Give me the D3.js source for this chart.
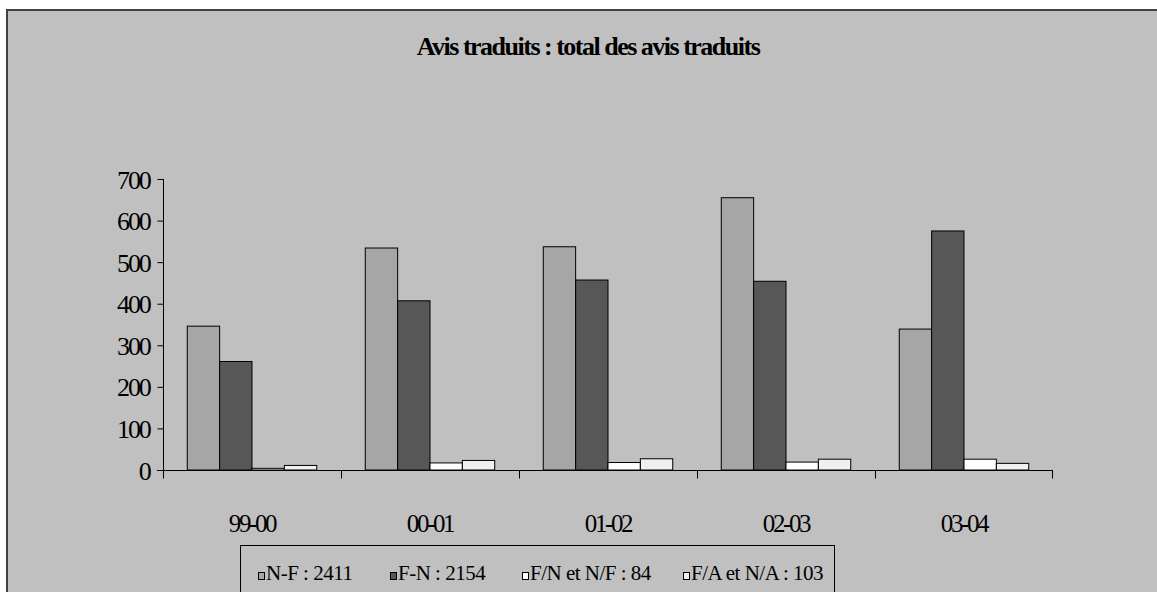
<!DOCTYPE html>
<html>
<head>
<meta charset="utf-8">
<script src="https://cdn.jsdelivr.net/npm/d3@7"></script>
<style>
  body { margin: 0; background: #ffffff; }
  text { font-family: "Liberation Serif", "Times New Roman", serif; fill: #000; }
</style>
</head>
<body>
<div id="chart"></div>
<script>
// data
var periods = ["99-00", "00-01", "01-02", "02-03", "03-04"];
var seriesNames = ["N-F", "F-N", "F/N et N/F", "F/A et N/A"];
var legendLabels = ["N-F : 2411", "F-N : 2154", "F/N et N/F : 84", "F/A et N/A : 103"];
var nf = [346, 534, 537, 655, 339];
var fn = [261, 407, 457, 454, 575];
var fnnf = [4, 17, 18, 19, 26];
var fana = [11, 23, 27, 26, 16];
var yTicks = [0, 100, 200, 300, 400, 500, 600, 700];

var colors = ["#a6a6a6", "#575757", "#ffffff", "#f0f0f0"];
var allSeries = [nf, fn, fnnf, fana];

var W = 1157, H = 592;
var svg = d3.select("#chart").append("svg")
  .attr("width", W).attr("height", H);

// chart area (gray, border left/top only visible)
svg.append("rect").attr("x", 7).attr("y", 10).attr("width", W).attr("height", H)
  .attr("fill", "#c0c0c0");
svg.append("line").attr("x1", 7).attr("x2", 7).attr("y1", 9).attr("y2", H)
  .attr("stroke", "#404040").attr("stroke-width", 2);
svg.append("line").attr("x1", 6).attr("x2", W).attr("y1", 10).attr("y2", 10)
  .attr("stroke", "#404040").attr("stroke-width", 2);

// title
svg.append("text")
  .attr("x", 588).attr("y", 55)
  .attr("text-anchor", "middle")
  .style("font-size", "26px").style("font-weight", "bold")
  .style("letter-spacing", "-1.5px")
  .text("Avis traduits : total des avis traduits");

// scales
var x = d3.scaleBand().domain(periods).range([163, 1053]).padding(0);
var x1 = d3.scaleBand().domain(seriesNames).range([0, x.bandwidth()])
  .paddingInner(0).paddingOuter(0.75);
var y = d3.scaleLinear().domain([0, 700]).range([470, 179]);

// bars
var rows = [];
periods.forEach(function (p, i) {
  seriesNames.forEach(function (s, j) {
    rows.push({ period: p, series: s, value: allSeries[j][i], color: colors[j] });
  });
});

svg.append("g").selectAll("rect")
  .data(rows)
  .enter()
  .append("rect")
  .attr("x", function (d) { return x(d.period) + x1(d.series); })
  .attr("y", function (d) { return y(d.value); })
  .attr("width", x1.bandwidth())
  .attr("height", function (d) { return y(0) - y(d.value); })
  .attr("fill", function (d) { return d.color; })
  .attr("stroke", "#000")
  .attr("stroke-width", 1);

// y axis
var yAxis = svg.append("g")
  .attr("transform", "translate(163.5,0)")
  .call(d3.axisLeft(y).tickValues(yTicks).tickSize(6).tickPadding(8));
yAxis.select(".domain").attr("d", "M0," + y(700) + "V" + (y(0) + 8));
yAxis.selectAll("line").attr("stroke", "#000");
yAxis.selectAll("text")
  .style("font-family", "Liberation Serif")
  .style("font-size", "26px")
  .style("letter-spacing", "-2.2px")
  .attr("dy", "0.35em");

// x axis
var xAxis = svg.append("g")
  .attr("transform", "translate(0," + (y(0) + 0.5) + ")");
xAxis.append("line")
  .attr("x1", 157).attr("x2", 1053).attr("y1", 0).attr("y2", 0)
  .attr("stroke", "#000");
xAxis.selectAll(".sep")
  .data(periods.concat(["end"]))
  .enter()
  .append("line")
  .attr("class", "sep")
  .attr("x1", function (d, i) { return i < periods.length ? x(d) + 0.5 : x.range()[1] - 0.5; })
  .attr("x2", function (d, i) { return i < periods.length ? x(d) + 0.5 : x.range()[1] - 0.5; })
  .attr("y1", 0).attr("y2", 8)
  .attr("stroke", "#000");
xAxis.selectAll(".lbl")
  .data(periods)
  .enter()
  .append("text")
  .attr("class", "lbl")
  .attr("x", function (d) { return x(d) + x.bandwidth() / 2; })
  .attr("y", 61)
  .attr("text-anchor", "middle")
  .style("font-size", "25px")
  .style("letter-spacing", "-2.4px")
  .text(function (d) { return d; });

// legend
var legend = svg.append("g");
legend.append("rect")
  .attr("x", 240.5).attr("y", 545.5).attr("width", 594).attr("height", 70)
  .attr("fill", "#c0c0c0").attr("stroke", "#000");
var legendX = [258, 390, 522, 683];
legendLabels.forEach(function (lab, i) {
  legend.append("rect")
    .attr("x", legendX[i] + 0.5).attr("y", 572.5)
    .attr("width", 6).attr("height", 7)
    .attr("fill", colors[i]).attr("stroke", "#000");
  legend.append("text")
    .attr("x", legendX[i] + 8).attr("y", 580)
    .style("font-size", "21px")
    .style("letter-spacing", "-0.5px")
    .text(lab);
});
</script>
</body>
</html>
